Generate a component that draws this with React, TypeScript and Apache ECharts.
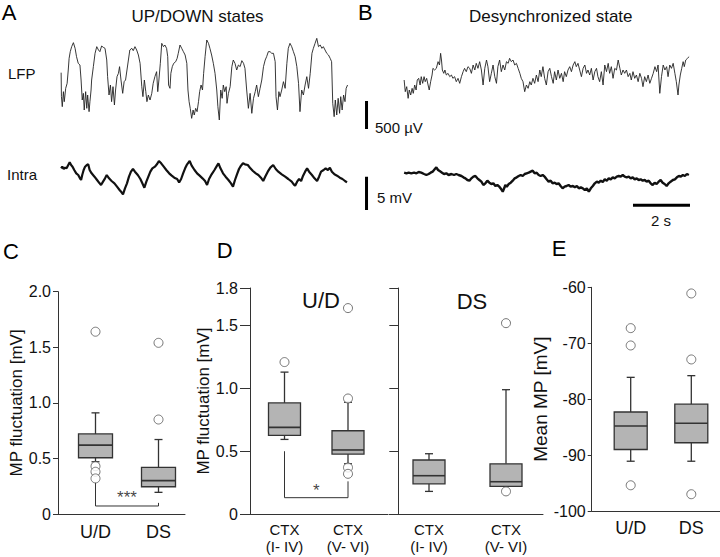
import React, { useEffect, useRef } from 'react';
import * as echarts from 'echarts';

const FONT = '"Liberation Sans", Arial, Helvetica, sans-serif';

// ---------- Panel A / B traces: [time (s), amplitude] ----------
// LFP in µV, intracellular in mV (relative)
const lfpUpDown: number[][] = [
  [0.04,942],[0.05,510],[0.08,330],[0.12,600],[0.15,420],[0.20,660],[0.25,750],[0.29,990],[0.32,1200],[0.36,1320],
  [0.41,1410],[0.47,1482],[0.53,1380],[0.58,1230],[0.64,1110],[0.70,1080],[0.74,810],[0.78,450],[0.82,570],[0.85,270],
  [0.90,600],[0.94,300],[0.97,540],[1.02,240],[1.05,420],[1.09,630],[1.11,810],[1.17,1050],[1.23,1290],[1.29,1410],
  [1.35,1350],[1.40,1320],[1.46,1422],[1.52,1398],[1.58,1380],[1.64,1170],[1.67,870],[1.72,540],[1.77,720],[1.81,420],
  [1.86,690],[1.91,360],[1.95,630],[2.00,870],[2.05,930],[2.09,1050],[2.14,810],[2.20,570],[2.25,780],[2.30,810],
  [2.35,990],[2.40,1170],[2.45,1350],[2.52,1380],[2.57,1338],[2.63,1410],[2.69,1350],[2.75,1260],[2.81,1110],[2.87,690],
  [2.91,510],[2.96,810],[3.01,600],[3.05,420],[3.10,540],[3.16,450],[3.22,570],[3.27,750],[3.33,870],[3.39,960],
  [3.43,600],[3.47,810],[3.52,1110],[3.57,1470],[3.63,1410],[3.68,1440],[3.74,1380],[3.78,1230],[3.81,720],[3.86,660],
  [3.89,930],[3.94,1050],[3.99,1110],[4.06,1140],[4.11,1200],[4.15,1290],[4.21,1440],[4.27,1380],[4.33,1320],[4.39,1260],
  [4.45,1110],[4.49,630],[4.53,420],[4.57,300],[4.62,120],[4.67,270],[4.71,180],[4.76,300],[4.81,240],[4.86,420],
  [4.90,600],[4.95,720],[5.00,630],[5.04,930],[5.09,1230],[5.15,1530],[5.21,1470],[5.26,1380],[5.32,1260],[5.38,1110],
  [5.44,930],[5.50,630],[5.54,330],[5.59,90],[5.64,630],[5.69,480],[5.73,720],[5.78,600],[5.83,690],[5.86,390],
  [5.91,570],[5.97,690],[6.03,1050],[6.08,1170],[6.14,1110],[6.20,990],[6.26,1080],[6.32,1050],[6.38,1158],[6.44,1110],
  [6.49,1020],[6.55,630],[6.61,300],[6.67,570],[6.73,210],[6.79,480],[6.85,600],[6.90,720],[6.96,510],[7.02,660],
  [7.08,810],[7.14,1050],[7.20,1170],[7.25,1230],[7.31,1320],[7.37,1320],[7.43,1290],[7.49,1290],[7.55,1140],[7.58,510],
  [7.63,270],[7.68,600],[7.72,510],[7.78,630],[7.84,780],[7.90,660],[7.96,1110],[8.01,1380],[8.07,1470],[8.13,1410],
  [8.19,1320],[8.25,1230],[8.31,1050],[8.37,750],[8.42,240],[8.48,630],[8.54,540],[8.60,720],[8.66,870],[8.72,660],
  [8.78,930],[8.84,1290],[8.89,1380],[8.95,1470],[9.01,1560],[9.07,1410],[9.13,1440],[9.19,1380],[9.24,1410],[9.30,1350],
  [9.36,1290],[9.42,1260],[9.48,1200],[9.53,1140],[9.57,390],[9.62,150],[9.66,450],[9.71,180],[9.76,480],[9.81,210],
  [9.85,510],[9.90,270],[9.95,540],[10.00,420],[10.04,660],[10.09,720]
];

const lfpDesync: number[][] = [
  [0.04,540],[0.08,330],[0.13,420],[0.18,210],[0.22,360],[0.27,270],[0.32,390],[0.36,300],[0.41,450],[0.46,360],
  [0.50,540],[0.55,570],[0.60,450],[0.64,600],[0.69,480],[0.74,600],[0.78,510],[0.83,570],[0.88,450],[0.92,360],
  [0.97,510],[1.02,630],[1.05,750],[1.11,720],[1.17,750],[1.23,870],[1.28,810],[1.32,1020],[1.35,900],[1.38,720],
  [1.43,660],[1.47,720],[1.52,630],[1.58,660],[1.64,600],[1.70,630],[1.75,570],[1.81,600],[1.87,510],[1.93,570],
  [1.99,480],[2.05,600],[2.11,690],[2.16,750],[2.22,690],[2.28,780],[2.34,750],[2.40,660],[2.46,810],[2.52,720],
  [2.57,840],[2.63,750],[2.69,870],[2.75,720],[2.81,450],[2.87,750],[2.93,900],[2.98,780],[3.04,510],[3.10,660],
  [3.16,810],[3.22,600],[3.28,480],[3.33,780],[3.39,900],[3.45,690],[3.51,810],[3.57,720],[3.63,870],[3.69,840],
  [3.74,930],[3.80,870],[3.86,900],[3.92,810],[3.98,840],[4.04,750],[4.10,660],[4.15,570],[4.21,510],[4.27,330],
  [4.33,450],[4.39,390],[4.45,510],[4.50,450],[4.56,570],[4.62,480],[4.68,630],[4.74,510],[4.80,720],[4.85,600],
  [4.91,780],[4.97,570],[5.03,450],[5.09,690],[5.15,750],[5.21,600],[5.27,480],[5.32,690],[5.38,540],[5.44,720],
  [5.50,570],[5.56,660],[5.62,510],[5.67,690],[5.73,600],[5.79,720],[5.85,780],[5.91,690],[5.97,810],[6.03,870],
  [6.08,780],[6.14,840],[6.20,720],[6.26,600],[6.32,750],[6.38,810],[6.44,660],[6.49,720],[6.55,630],[6.61,750],
  [6.67,540],[6.73,690],[6.79,750],[6.84,600],[6.90,510],[6.96,690],[7.02,450],[7.08,810],[7.14,690],[7.20,840],
  [7.25,660],[7.31,780],[7.37,570],[7.43,750],[7.49,720],[7.55,900],[7.61,750],[7.66,630],[7.72,720],[7.78,660],
  [7.84,720],[7.90,600],[7.96,660],[8.01,540],[8.07,690],[8.13,570],[8.19,630],[8.25,510],[8.31,660],[8.37,570],
  [8.42,420],[8.48,600],[8.54,510],[8.60,630],[8.66,480],[8.72,570],[8.78,660],[8.84,780],[8.90,690],[8.95,810],
  [9.01,300],[9.07,600],[9.13,810],[9.19,720],[9.25,780],[9.30,600],[9.36,810],[9.42,750],[9.48,840],[9.54,660],
  [9.59,510],[9.65,270],[9.68,450],[9.73,630],[9.78,750],[9.83,870],[9.87,780],[9.92,900],[9.98,930],[10.04,960]
];

const intraUpDown: number[][] = [
  [0.04,4.75],[0.08,5.0],[0.13,4.65],[0.18,4.85],[0.23,4.75],[0.29,5.25],[0.34,5.65],[0.39,5.25],[0.44,5.0],[0.50,4.5],
  [0.57,4.0],[0.64,3.75],[0.70,3.25],[0.74,3.0],[0.78,3.75],[0.83,4.5],[0.88,5.0],[0.94,5.25],[0.99,5.35],[1.04,4.5],
  [1.11,4.0],[1.21,3.5],[1.30,3.0],[1.39,2.5],[1.44,2.25],[1.51,2.75],[1.58,3.25],[1.64,3.75],[1.72,3.25],[1.81,2.85],
  [1.91,2.5],[2.00,2.0],[2.09,1.5],[2.16,1.15],[2.21,0.85],[2.28,1.75],[2.35,2.5],[2.42,3.5],[2.49,4.25],[2.56,4.65],
  [2.63,4.25],[2.73,3.75],[2.82,3.15],[2.89,2.5],[2.96,1.85],[3.03,2.75],[3.10,3.5],[3.17,4.25],[3.24,4.75],[3.33,5.0],
  [3.40,5.35],[3.47,5.85],[3.55,5.5],[3.64,5.0],[3.73,4.5],[3.83,4.0],[3.92,3.65],[4.01,3.35],[4.11,3.15],[4.18,2.65],
  [4.25,3.15],[4.32,4.0],[4.39,4.75],[4.46,5.35],[4.55,5.85],[4.62,5.15],[4.72,4.5],[4.81,4.0],[4.90,3.65],[5.00,3.25],
  [5.09,2.85],[5.16,2.25],[5.23,3.15],[5.32,3.85],[5.42,4.5],[5.51,5.15],[5.56,5.5],[5.63,4.75],[5.72,4.0],[5.81,3.5],
  [5.91,3.0],[6.00,2.5],[6.07,2.0],[6.14,3.0],[6.21,3.85],[6.28,4.65],[6.35,5.15],[6.42,5.5],[6.49,5.35],[6.59,5.25],
  [6.68,4.75],[6.77,4.35],[6.87,4.0],[6.96,3.75],[7.05,3.35],[7.13,2.85],[7.20,3.5],[7.29,4.25],[7.38,4.85],[7.48,5.25],
  [7.57,4.65],[7.66,4.25],[7.78,3.85],[7.90,3.5],[8.01,3.15],[8.13,2.75],[8.20,2.35],[8.25,2.15],[8.32,2.75],[8.39,3.15],
  [8.46,2.85],[8.53,3.65],[8.60,4.25],[8.67,4.75],[8.74,4.25],[8.84,3.75],[8.93,3.25],[9.02,2.85],[9.09,3.5],[9.16,4.25],
  [9.25,4.5],[9.32,4.75],[9.40,4.5],[9.47,4.85],[9.54,4.25],[9.63,3.85],[9.72,3.65],[9.82,3.35],[9.91,3.15],[10.00,2.85],
  [10.07,2.65]
];

const intraDesync: number[][] = [
  [0.04,4.1],[0.12,4.0],[0.20,4.1],[0.29,4.0],[0.39,4.1],[0.47,4.0],[0.55,4.2],[0.64,4.1],[0.74,3.9],[0.82,3.75],
  [0.90,3.9],[0.97,4.1],[1.04,4.25],[1.11,4.6],[1.17,4.9],[1.23,4.5],[1.30,4.3],[1.37,4.1],[1.44,3.9],[1.52,4.0],
  [1.60,3.75],[1.70,3.9],[1.79,3.75],[1.87,3.9],[1.95,3.75],[2.05,3.6],[2.12,3.4],[2.19,3.25],[2.26,3.0],[2.33,2.9],
  [2.40,3.25],[2.47,3.5],[2.54,3.6],[2.61,3.25],[2.68,3.0],[2.75,2.75],[2.82,2.25],[2.89,2.5],[2.96,2.9],[3.03,2.6],
  [3.10,2.4],[3.17,2.5],[3.24,2.1],[3.31,2.25],[3.38,2.0],[3.45,1.6],[3.50,1.25],[3.55,1.75],[3.59,2.25],[3.64,2.0],
  [3.71,2.4],[3.78,2.6],[3.85,2.9],[3.92,3.25],[3.99,3.4],[4.06,3.6],[4.13,3.75],[4.20,3.6],[4.27,3.9],[4.34,4.0],
  [4.41,4.1],[4.48,4.25],[4.55,4.4],[4.62,4.0],[4.69,4.1],[4.76,3.75],[4.83,3.6],[4.90,3.75],[4.97,3.5],[5.04,3.1],
  [5.11,2.75],[5.18,2.9],[5.25,2.5],[5.32,2.6],[5.39,2.4],[5.46,2.5],[5.53,2.1],[5.60,1.75],[5.67,2.0],[5.74,2.1],
  [5.81,2.25],[5.88,2.0],[5.96,2.1],[6.03,1.9],[6.10,2.1],[6.17,1.75],[6.24,1.9],[6.31,1.75],[6.38,1.5],[6.45,1.75],
  [6.52,1.25],[6.59,1.75],[6.66,2.1],[6.73,2.5],[6.80,2.75],[6.87,2.6],[6.94,2.9],[7.01,2.7],[7.08,3.1],[7.15,2.9],
  [7.22,3.25],[7.29,3.1],[7.36,3.4],[7.43,3.25],[7.50,3.5],[7.57,3.6],[7.64,3.5],[7.71,3.75],[7.78,3.5],[7.85,3.4],
  [7.92,3.5],[7.99,3.25],[8.06,3.4],[8.13,3.1],[8.20,3.25],[8.27,3.0],[8.34,3.1],[8.41,2.9],[8.48,3.0],[8.55,2.75],
  [8.62,2.9],[8.69,2.5],[8.76,2.25],[8.83,2.6],[8.90,2.4],[8.97,2.75],[9.04,3.0],[9.11,2.6],[9.18,2.4],[9.25,2.1],
  [9.32,2.5],[9.39,2.75],[9.47,3.0],[9.54,3.1],[9.61,3.4],[9.68,3.6],[9.75,3.5],[9.82,3.75],[9.89,3.6],[9.96,3.9],
  [10.03,3.75]
];

// scale bars (data units)
const lfpBarUV = 500;
const intraBarMV = 5;
const timeBarS = 2;

// ---------- Panel C ----------
const cCategories = ['U/D', 'DS'];
// [min, Q1, median, Q3, max]
const cBoxes = [[0.47, 0.506, 0.62, 0.72, 0.91], [0.195, 0.245, 0.30, 0.42, 0.67]];
const cOutliers = [[1.64, 0.43, 0.38, 0.32], [0.85, 1.54]];
const cBracket = [0.285, 0.072, 0.10]; // left top, bottom, right top
const cSig = '***';

// ---------- Panel D ----------
const dCategories = ['CTX\n(I- IV)', 'CTX\n(V- VI)'];
const dUDBoxes = [[0.594, 0.626, 0.69, 0.885, 1.13], [0.40, 0.477, 0.51, 0.663, 0.89]];
const dUDOutliers = [[1.21], [1.64, 0.92, 0.37, 0.32]];
const dDSBoxes = [[0.18, 0.24, 0.305, 0.43, 0.48], [0.22, 0.22, 0.257, 0.40, 0.99]];
const dDSOutliers = [[], [1.52, 0.18]];
const dTicks = [0, 0.5, 1.0, 1.5, 1.8];
const dBracket = [0.50, 0.13, 0.26];
const dSig = '*';

// ---------- Panel E ----------
const eCategories = ['U/D', 'DS'];
const eBoxes = [[-91.1, -89.0, -84.8, -82.3, -76.1], [-91.1, -87.8, -84.3, -80.9, -75.8]];
const eOutliers = [[-67.3, -70.4, -95.4], [-61.1, -72.9, -97.0]];

// ---------- layout constants ----------
const PX_PER_S = 28.5;
const UV_PER_PX = 18;
const MV_PER_PX = 0.15;

const AX = '#333';
const TXT = '#111';

function traceGrid(left: number, width: number, t0px: number, top: number, height: number, zeroY: number, unitPerPx: number) {
  const tMin = -(t0px - left) / PX_PER_S;
  const tMax = tMin + width / PX_PER_S;
  const vMax = (zeroY - top) * unitPerPx;
  const vMin = (zeroY - (top + height)) * unitPerPx;
  return { grid: { left, top, width, height }, x: [tMin, tMax], y: [vMin, vMax] };
}

const catLabel = (cats: string[]) => (v: number) => cats[Math.round(v) - 1] ?? '';

function boxSeries(idx: number, boxes: number[][], boxW: number) {
  return {
    type: 'custom',
    xAxisIndex: idx,
    yAxisIndex: idx,
    clip: false,
    data: boxes.map((b, i) => [i + 1, ...b]),
    encode: { x: 0, y: [1, 2, 3, 4, 5] },
    renderItem: (_params: any, api: any) => {
      const x = api.value(0);
      const p = [1, 2, 3, 4, 5].map((d) => api.coord([x, api.value(d)]));
      const cx = p[0][0];
      const half = boxW / 2;
      const cap = 4;
      const lw = 1.3;
      const ln = (x1: number, y1: number, x2: number, y2: number, w = lw) => ({
        type: 'line',
        shape: { x1, y1, x2, y2 },
        style: { stroke: AX, lineWidth: w },
      });
      return {
        type: 'group',
        children: [
          ln(cx, p[4][1], cx, p[3][1]),
          ln(cx - cap, p[4][1], cx + cap, p[4][1]),
          ln(cx, p[0][1], cx, p[1][1]),
          ln(cx - cap, p[0][1], cx + cap, p[0][1]),
          {
            type: 'rect',
            shape: { x: cx - half, y: p[3][1], width: boxW, height: p[1][1] - p[3][1] },
            style: { fill: '#b4b4b4', stroke: AX, lineWidth: lw },
          },
          ln(cx - half, p[2][1], cx + half, p[2][1], 1.6),
        ],
      };
    },
  };
}

function outlierSeries(idx: number, outs: number[][]) {
  return {
    type: 'scatter',
    xAxisIndex: idx,
    yAxisIndex: idx,
    symbol: 'circle',
    symbolSize: 9,
    z: 5,
    silent: true,
    itemStyle: { color: '#fff', borderColor: '#555', borderWidth: 1 },
    data: outs.flatMap((arr, i) => arr.map((v) => [i + 1, v])),
  };
}

function bracketSeries(idx: number, b: number[], sig: string, sigY: number, sigSize: number) {
  return [
    {
      type: 'line',
      xAxisIndex: idx,
      yAxisIndex: idx,
      symbol: 'none',
      silent: true,
      lineStyle: { color: AX, width: 1 },
      data: [[1, b[0]], [1, b[1]], [2, b[1]], [2, b[2]]],
    },
    {
      type: 'scatter',
      xAxisIndex: idx,
      yAxisIndex: idx,
      symbolSize: 1,
      silent: true,
      itemStyle: { color: 'rgba(0,0,0,0)' },
      label: { show: true, position: 'inside', formatter: sig, fontSize: sigSize, fontFamily: FONT, color: TXT },
      data: [[1.5, sigY]],
    },
  ];
}

function boxYAxis(idx: number, extra: any) {
  return {
    type: 'value',
    gridIndex: idx,
    splitLine: { show: false },
    axisLine: { show: true, onZero: false, lineStyle: { color: AX, width: 1 } },
    axisTick: { show: true, lineStyle: { color: AX } },
    nameLocation: 'middle',
    ...extra,
    nameTextStyle: { fontFamily: FONT, fontSize: 17, color: TXT, ...(extra.nameTextStyle || {}) },
    axisLabel: { fontFamily: FONT, fontSize: 16, color: TXT, ...(extra.axisLabel || {}) },
  };
}

function boxXAxis(idx: number, min: number, max: number, cats: string[], fontSize: number, margin: number, lineHeight?: number) {
  return {
    type: 'value',
    gridIndex: idx,
    min,
    max,
    splitLine: { show: false },
    axisLine: { show: true, onZero: false, lineStyle: { color: AX, width: 1 } },
    axisTick: { show: false },
    axisLabel: {
      customValues: [1, 2],
      formatter: catLabel(cats),
      fontFamily: FONT,
      fontSize,
      color: TXT,
      margin,
      lineHeight,
    },
  };
}

export default function App() {
  const ref = useRef<HTMLDivElement>(null);

  useEffect(() => {
    if (!ref.current) return;
    const chart = echarts.init(ref.current, undefined, { renderer: 'svg' });

    const gA = traceGrid(60, 290.7, 60, 35, 90, 125, UV_PER_PX);
    const gB = traceGrid(360, 340, 403, 45, 90, 110, UV_PER_PX);
    const gIA = traceGrid(60, 290.7, 60, 155, 50, 200, MV_PER_PX);
    const gIB = traceGrid(360, 340, 403, 155, 60, 200, MV_PER_PX);
    const traceGrids = [gA, gB, gIA, gIB];

    const barT = -1.28;
    const lfpBarTop = 160;
    const intraBarTop = 3.5;
    const timeBarEnd = 10.07;
    const timeBarV = -0.8;

    const fmt1 = (v: number) => (v === 0 ? '0' : v.toFixed(1));

    const option: any = {
      animation: false,
      backgroundColor: '#fff',
      grid: [
        ...traceGrids.map((g) => g.grid),
        { left: 58, top: 291.7, width: 127, height: 222.3 },
        { left: 250, top: 288, width: 137.7, height: 226 },
        { left: 389, top: 288, width: 154, height: 226 },
        { left: 591.7, top: 287.3, width: 128.3, height: 223.7 },
      ],
      xAxis: [
        ...traceGrids.map((g, i) => ({ type: 'value', gridIndex: i, min: g.x[0], max: g.x[1], show: false })),
        boxXAxis(4, 1 - 37.5 / 63, 1 - 37.5 / 63 + 127 / 63, cCategories, 18, 9),
        boxXAxis(5, 1 - 34.5 / 63.5, 1 - 34.5 / 63.5 + 137.7 / 63.5, dCategories, 15, 7, 17),
        boxXAxis(6, 1 - 40 / 77, 1 - 40 / 77 + 154 / 77, dCategories, 15, 7, 17),
        boxXAxis(7, 1 - 39 / 60.6, 1 - 39 / 60.6 + 128.3 / 60.6, eCategories, 18, 8),
      ],
      yAxis: [
        ...traceGrids.map((g, i) => ({ type: 'value', gridIndex: i, min: g.y[0], max: g.y[1], show: false })),
        boxYAxis(4, {
          min: 0, max: 2, interval: 0.5,
          axisTick: { show: true, length: 5, lineStyle: { color: AX } },
          axisLabel: { formatter: fmt1, margin: 7 },
          name: 'MP fluctuation [mV]', nameGap: 33,
        }),
        boxYAxis(5, {
          min: 0, max: 1.8,
          axisTick: { show: true, length: 10, customValues: dTicks, lineStyle: { color: AX } },
          axisLabel: { formatter: fmt1, margin: 12, customValues: dTicks },
          name: 'MP fluctuation [mV]', nameGap: 37,
        }),
        boxYAxis(6, {
          min: 0, max: 1.8, offset: -9.3,
          axisTick: { show: true, length: 9, customValues: dTicks.slice(1), lineStyle: { color: AX } },
          axisLabel: { show: false },
        }),
        boxYAxis(7, {
          min: -100, max: -60, interval: 10,
          axisTick: { show: true, length: 4, lineStyle: { color: AX } },
          axisLabel: { margin: 6 },
          name: 'Mean MP [mV]', nameGap: 39,
          nameTextStyle: { fontSize: 19 },
        }),
      ],
      series: [
        { type: 'line', xAxisIndex: 0, yAxisIndex: 0, data: lfpUpDown, symbol: 'none', silent: true, lineStyle: { color: '#222', width: 0.9 } },
        { type: 'line', xAxisIndex: 1, yAxisIndex: 1, data: lfpDesync, symbol: 'none', silent: true, lineStyle: { color: '#222', width: 0.9 } },
        { type: 'line', xAxisIndex: 2, yAxisIndex: 2, data: intraUpDown, symbol: 'none', silent: true, lineStyle: { color: '#111', width: 2.2 } },
        { type: 'line', xAxisIndex: 3, yAxisIndex: 3, data: intraDesync, symbol: 'none', silent: true, lineStyle: { color: '#111', width: 2.4 } },
        // scale bars
        { type: 'line', xAxisIndex: 1, yAxisIndex: 1, data: [[barT, lfpBarTop], [barT, lfpBarTop - lfpBarUV]], symbol: 'none', silent: true, lineStyle: { color: '#000', width: 3, cap: 'butt' } },
        { type: 'line', xAxisIndex: 3, yAxisIndex: 3, data: [[barT, intraBarTop], [barT, intraBarTop - intraBarMV]], symbol: 'none', silent: true, lineStyle: { color: '#000', width: 3, cap: 'butt' } },
        { type: 'line', xAxisIndex: 3, yAxisIndex: 3, data: [[timeBarEnd - timeBarS, timeBarV], [timeBarEnd, timeBarV]], symbol: 'none', silent: true, lineStyle: { color: '#000', width: 3, cap: 'butt' } },
        // C
        boxSeries(4, cBoxes, 34),
        outlierSeries(4, cOutliers),
        ...bracketSeries(4, cBracket, cSig, 0.15, 17),
        // D
        boxSeries(5, dUDBoxes, 32),
        outlierSeries(5, dUDOutliers),
        ...bracketSeries(5, dBracket, dSig, 0.19, 17),
        boxSeries(6, dDSBoxes, 32),
        outlierSeries(6, dDSOutliers),
        // E
        boxSeries(7, eBoxes, 33),
        outlierSeries(7, eOutliers),
      ],
      graphic: [
        ...[
          ['A', 1.7, 12.5], ['B', 358, 12.5], ['C', 3, 251.5], ['D', 216.7, 250], ['E', 551.7, 248],
        ].map(([t, x, y]) => ({
          type: 'text', x, y,
          style: { text: t, fontFamily: FONT, fontSize: 22, fill: '#000', align: 'left', verticalAlign: 'middle' },
        })),
        ...[
          ['UP/DOWN states', 197.5, 16, 17, 'center'],
          ['Desynchronized state', 550.8, 16, 17, 'center'],
          ['LFP', 8, 73, 15, 'left'],
          ['Intra', 7, 174, 15, 'left'],
          ['500 µV', 375, 127, 15, 'left'],
          ['5 mV', 377, 197, 15, 'left'],
          ['2 s', 661, 220, 15, 'center'],
          ['U/D', 321, 300.7, 22, 'center'],
          ['DS', 472, 301, 22, 'center'],
        ].map(([t, x, y, fs, al]) => ({
          type: 'text', x, y,
          style: { text: t, fontFamily: FONT, fontSize: fs, fill: TXT, align: al, verticalAlign: 'middle' },
        })),
      ],
    };

    chart.setOption(option);
    return () => chart.dispose();
  }, []);

  return (
    <div
      ref={ref}
      style={{ position: 'absolute', left: 0, top: 0, width: 720, height: 557, background: '#fff' }}
    />
  );
}
